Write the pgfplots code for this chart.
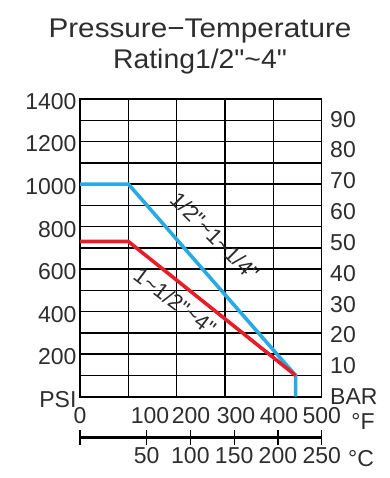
\documentclass[border=0pt]{standalone}
\usepackage{fontspec}
\setmainfont{Liberation Sans}[Ligatures=TeXOff]
\usepackage{graphicx}
\usepackage{pgfplots}
\pgfplotsset{compat=1.18}
\definecolor{lineblue}{RGB}{41,171,226}
\definecolor{linered}{RGB}{230,30,40}
\definecolor{txt}{RGB}{45,45,45}
\newcommand{\tl}{\char"007E\relax}
\newcommand{\qq}{\char"0022\relax}
\begin{document}
\begin{tikzpicture}
\path[use as bounding box] (0,0) rectangle (390bp,478bp);
\node[font=\fontsize{27bp}{30bp}\selectfont, text=txt] at (200bp,447bp) {\scalebox{1.1}[1]{Pressure−Temperature}};
\node[font=\fontsize{27bp}{30bp}\selectfont, text=txt] at (200bp,416bp) {\scalebox{1.05}[1]{Rating1/2\qq\tl4\qq}};
% main PSI axis
\begin{axis}[
  at={(80bp,81.3bp)}, anchor=south west,
  scale only axis, width=241.7bp, height=297.7bp,
  xmin=0, xmax=500, ymin=0, ymax=1400,
  xtick={0,100,...,500}, xticklabels={},
  ytick={0,100,...,1400},
  yticklabels={PSI,,200,,400,,600,,800,,1000,,1200,,1400},
  grid=major, grid style={black, line width=1.5bp},
  axis line style={black, line width=1.6bp},
  major tick length=0pt,
  tick label style={font=\fontsize{23bp}{23bp}\selectfont, text=txt},
  yticklabel style={yshift=-2.5bp},
  extra x ticks={0,144.8,229.6,322.7,411.7,500},
  extra x tick labels={0,100,200,300,400,500},
  extra x tick style={grid=none, major tick length=0pt, xticklabel style={yshift=-7bp}},
  clip=false,
]
\addplot[lineblue, line width=3.6bp] coordinates {(0,1000) (100,1000) (446,100) (446,0)};
\addplot[linered, line width=3.6bp] coordinates {(0,730) (100,730) (446,100)};
\node[rotate=-45, font=\fontsize{22bp}{22bp}\selectfont, text=txt] at (axis cs:279,755) {1/2\qq\tl1\tl1/4\qq};
\node[rotate=-37, font=\fontsize{22bp}{22bp}\selectfont, text=txt] at (axis cs:196.5,448) {1\tl1/2\qq\tl4\qq};
\end{axis}
% BAR axis
\begin{axis}[
  at={(80bp,81.3bp)}, anchor=south west,
  scale only axis, width=241.7bp, height=297.7bp,
  xmin=0, xmax=500, ymin=0, ymax=96.526,
  hide x axis, axis y line*=right, y axis line style={draw=none},
  ytick={0,10,...,90},
  yticklabels={BAR,10,20,30,40,50,60,70,80,90},
  major tick length=0pt,
  tick label style={font=\fontsize{23bp}{23bp}\selectfont, text=txt},
  yticklabel style={xshift=5bp},
]
\addplot[draw=none] coordinates {(0,0)};
\end{axis}
% Celsius scale
\begin{axis}[
  at={(80bp,40.5bp)}, anchor=south west,
  scale only axis, width=241.7bp, height=10bp,
  xmin=-26.1, xmax=250, ymin=0, ymax=1,
  axis x line*=bottom, axis y line=none,
  x axis line style={-, line width=3.6bp, black},
  xtick={-26.1,50,100,150,200,250},
  xticklabels={,50,100,150,200,250},
  tick align=center, major tick length=14bp,
  tick style={black, line width=1.3bp},
  tick label style={font=\fontsize{23bp}{23bp}\selectfont, text=txt},
  xticklabel style={yshift=1bp},
]
\addplot[draw=none] coordinates {(0,0)};
\end{axis}
\node[font=\fontsize{23bp}{23bp}\selectfont, text=txt] at (363bp,57bp) {°F};
\node[font=\fontsize{23bp}{23bp}\selectfont, text=txt] at (361bp,19bp) {°C};
\end{tikzpicture}
\end{document}
